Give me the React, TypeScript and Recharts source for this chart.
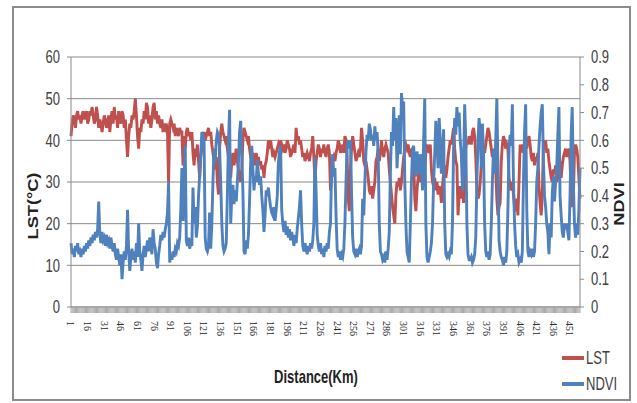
import { LineChart, Line, XAxis, YAxis, CartesianGrid, Label } from 'recharts';

// LST (°C) along the transect, one value per km
const lst = [
  41, 44, 46, 45, 43, 46, 47, 45, 46, 44, 46, 47, 45, 46, 47, 44, 45, 47, 46, 48,
  46, 44, 45, 48, 46, 43, 45, 44, 42, 44, 46, 45, 43, 44, 46, 42, 45, 47, 44, 48,
  45, 46, 43, 47, 45, 44, 47, 46, 43, 45, 40, 36, 41, 44, 43, 46, 45, 47, 50, 46,
  41, 38, 43, 42, 45, 44, 47, 45, 49, 48, 44, 46, 43, 45, 48, 49, 45, 47, 44, 46,
  44, 43, 45, 42, 44, 43, 44, 42, 30, 44, 45, 44, 43, 44, 41, 43, 42, 41, 43, 42,
  42, 34, 41, 38, 42, 43, 41, 42, 40, 42, 37, 34, 38, 36, 39, 35, 31, 36, 38, 41,
  42, 40, 41, 42, 43, 41, 42, 39, 37, 35, 33, 36, 30, 27, 38, 42, 44, 42, 41, 40,
  41, 38, 36, 33, 31, 35, 37, 34, 36, 38, 35, 33, 31, 30, 33, 40, 43, 42, 41, 40,
  41, 38, 36, 35, 37, 36, 34, 37, 35, 36, 34, 35, 33, 34, 31, 34, 35, 37, 40, 39,
  40, 38, 36, 37, 36, 37, 38, 39, 38, 40, 39, 38, 39, 37, 38, 40, 39, 38, 36, 37,
  38, 39, 37, 43, 40, 41, 39, 40, 38, 36, 37, 35, 36, 37, 36, 35, 37, 38, 41, 36,
  30, 35, 37, 39, 38, 36, 38, 37, 39, 37, 36, 38, 39, 37, 28, 31, 35, 36, 35, 37,
  38, 40, 39, 37, 38, 39, 37, 41, 40, 36, 26, 23, 33, 38, 41, 39, 37, 35, 36, 37,
  36, 38, 43, 40, 35, 34, 35, 33, 31, 28, 27, 29, 26, 28, 30, 35, 36, 38, 35, 37,
  40, 37, 36, 38, 39, 38, 37, 33, 30, 27, 24, 22, 20, 27, 30, 29, 31, 28, 30, 33,
  36, 38, 39, 38, 39, 37, 36, 38, 37, 35, 26, 23, 28, 31, 33, 30, 32, 34, 31, 33,
  37, 39, 38, 37, 39, 33, 30, 29, 31, 28, 30, 27, 29, 28, 25, 29, 32, 34, 31, 33,
  36, 38, 40, 39, 41, 43, 38, 35, 34, 22, 27, 29, 26, 28, 25, 30, 38, 40, 39, 41,
  40, 39, 42, 43, 41, 36, 28, 26, 27, 30, 34, 36, 38, 37, 39, 41, 43, 42, 40, 38,
  36, 37, 35, 33, 26, 22, 24, 25, 35, 39, 41, 40, 38, 39, 38, 31, 29, 28, 30, 27,
  24, 23, 26, 22, 30, 39, 38, 39, 37, 38, 39, 38, 40, 41, 39, 36, 35, 37, 34, 36,
  35, 37, 29, 25, 22, 27, 39, 38, 40, 37, 38, 35, 33, 31, 30, 33, 32, 34, 30, 31,
  33, 35, 31, 34, 36, 37, 38, 36, 37, 38, 35, 27, 24, 26, 37, 39, 38, 36, 31, 26,
];

// NDVI along the same transect
const ndvi = [
  0.23, 0.19, 0.21, 0.18, 0.22, 0.2, 0.23, 0.19, 0.2, 0.18, 0.21, 0.19, 0.22, 0.2, 0.23, 0.21, 0.24, 0.22, 0.25, 0.23,
  0.26, 0.24, 0.27, 0.25, 0.28, 0.38, 0.26, 0.23, 0.27, 0.24, 0.25, 0.22, 0.26, 0.23, 0.24, 0.21, 0.25, 0.22, 0.2, 0.23,
  0.19, 0.17, 0.21, 0.18, 0.15, 0.19, 0.1, 0.16, 0.2, 0.17, 0.22, 0.35, 0.2, 0.13, 0.18, 0.21, 0.17, 0.2, 0.16, 0.23,
  0.18, 0.3, 0.2, 0.17, 0.13, 0.19, 0.22, 0.18, 0.21, 0.24, 0.2, 0.25, 0.22, 0.19, 0.28, 0.23, 0.21, 0.16, 0.14, 0.19,
  0.22, 0.26, 0.24, 0.27, 0.25, 0.28, 0.3, 0.34, 0.45, 0.16, 0.19, 0.17, 0.2, 0.18, 0.21, 0.2, 0.23, 0.22, 0.25, 0.35,
  0.5, 0.31, 0.48, 0.58, 0.24, 0.22, 0.25, 0.21, 0.23, 0.22, 0.43, 0.3, 0.36, 0.25, 0.29, 0.4, 0.47, 0.55, 0.63, 0.62,
  0.6, 0.25, 0.21, 0.2, 0.22, 0.34, 0.21, 0.3, 0.45, 0.57, 0.52, 0.6, 0.63, 0.62, 0.57, 0.45, 0.3, 0.22, 0.2, 0.21,
  0.23, 0.4, 0.6, 0.71, 0.3, 0.4, 0.44, 0.37, 0.42, 0.38, 0.45, 0.52, 0.63, 0.67, 0.55, 0.42, 0.2, 0.19, 0.24, 0.21,
  0.26, 0.38, 0.52, 0.58, 0.5, 0.42, 0.47, 0.45, 0.53, 0.48, 0.44, 0.47, 0.4, 0.35, 0.27, 0.33, 0.42, 0.4, 0.43, 0.39,
  0.36, 0.34, 0.33, 0.36, 0.31, 0.35, 0.4, 0.52, 0.56, 0.58, 0.35, 0.3, 0.27, 0.31, 0.26, 0.29, 0.25, 0.28, 0.24, 0.27,
  0.25, 0.22, 0.26, 0.23, 0.28, 0.32, 0.36, 0.42, 0.3, 0.22, 0.2, 0.23, 0.21, 0.19, 0.22, 0.2, 0.23, 0.21, 0.24, 0.3,
  0.54, 0.42, 0.26, 0.22, 0.2, 0.23, 0.19, 0.21, 0.18, 0.22, 0.2, 0.23, 0.21, 0.27, 0.3, 0.5, 0.55, 0.47, 0.5, 0.33,
  0.21, 0.18, 0.2, 0.17, 0.19, 0.18, 0.21, 0.3, 0.45, 0.58, 0.6, 0.57, 0.6, 0.41, 0.25, 0.2, 0.19, 0.21, 0.18, 0.2,
  0.21, 0.19, 0.22, 0.39, 0.33, 0.45, 0.56, 0.62, 0.6, 0.66, 0.64, 0.6, 0.62, 0.58, 0.65, 0.6, 0.63, 0.55, 0.3, 0.2,
  0.19, 0.17, 0.18, 0.16, 0.2, 0.17, 0.21, 0.27, 0.48, 0.63, 0.58, 0.72, 0.6, 0.68, 0.5, 0.6, 0.69, 0.55, 0.77, 0.72,
  0.74, 0.45, 0.3, 0.2, 0.18, 0.16, 0.3, 0.45, 0.57, 0.58, 0.5, 0.47, 0.56, 0.52, 0.48, 0.55, 0.5, 0.42, 0.6, 0.75,
  0.3, 0.18, 0.16, 0.18, 0.2, 0.23, 0.3, 0.45, 0.55, 0.67, 0.6, 0.5, 0.68, 0.6, 0.48, 0.55, 0.64, 0.3, 0.19, 0.18,
  0.19, 0.18, 0.2, 0.19, 0.3, 0.57, 0.68, 0.62, 0.72, 0.65, 0.7, 0.6, 0.55, 0.42, 0.5, 0.73, 0.6, 0.3, 0.19, 0.17,
  0.17, 0.18, 0.16, 0.17, 0.19, 0.25, 0.45, 0.6, 0.68, 0.62, 0.5, 0.66, 0.55, 0.3, 0.2, 0.18, 0.2, 0.17, 0.19, 0.3,
  0.45, 0.57, 0.48, 0.6, 0.75, 0.5, 0.24, 0.2, 0.18, 0.17, 0.15, 0.18, 0.16, 0.2, 0.35, 0.57, 0.62, 0.58, 0.73, 0.45,
  0.3, 0.22, 0.18, 0.19, 0.16, 0.17, 0.16, 0.2, 0.45, 0.63, 0.73, 0.35, 0.2, 0.18, 0.2, 0.19, 0.21, 0.18, 0.2, 0.3,
  0.45, 0.5, 0.58, 0.65, 0.7, 0.73, 0.53, 0.4, 0.36, 0.3, 0.27, 0.19, 0.3, 0.25, 0.41, 0.47, 0.38, 0.45, 0.5, 0.62,
  0.72, 0.4, 0.33, 0.27, 0.25, 0.3, 0.28, 0.3, 0.27, 0.24, 0.4, 0.62, 0.72, 0.45, 0.3, 0.25, 0.3, 0.26, 0.35, 0.5,
];

// distance labels (km), one per sample
const distance = lst.map((_, i) => i + 1);

const xTickLabels = [
  1, 16, 31, 46, 61, 76, 91, 106, 121, 136, 151, 166, 181, 196, 211, 226,
  241, 256, 271, 286, 301, 316, 331, 346, 361, 376, 391, 406, 421, 436, 451,
];
const lstTicks = [0, 10, 20, 30, 40, 50, 60];
const ndviTicks = [0, 0.1, 0.2, 0.3, 0.4, 0.5, 0.6, 0.7, 0.8, 0.9];

const data = distance.map((d, i) => ({ d, lst: lst[i], ndvi: ndvi[i] }));

const RED = '#C0504D';
const BLUE = '#4F81BD';
const AXIS = '#8a8a8a';
const TXT = '#404040';
const SANS = "'Liberation Sans', Arial, sans-serif";

// the source image is stretched vertically, so the y tick text is stretched too
const LeftTick = (props: any) => (
  <g transform={`translate(60,${props.y})`}>
    <g transform="scale(1,1.35)">
      <text x={0} y={0} textAnchor="end" dominantBaseline="central" fontSize={13} fontFamily={SANS} fill={TXT}>
        {props.payload.value}
      </text>
    </g>
  </g>
);

const RightTick = (props: any) => (
  <g transform={`translate(591,${props.y})`}>
    <g transform="scale(1,1.35)">
      <text x={0} y={0} textAnchor="start" dominantBaseline="central" fontSize={13} fontFamily={SANS} fill={TXT}>
        {props.payload.value}
      </text>
    </g>
  </g>
);

export default function App() {
  return (
    <div style={{ position: 'absolute', left: 0, top: 0, width: 637, height: 403, background: '#fff' }}>
      <div style={{ position: 'absolute', left: 0, top: 0 }}>
        <LineChart width={637} height={403} data={data} margin={{ top: 57, right: 17, left: 41, bottom: 56 }}>
          <CartesianGrid yAxisId="left" vertical={false} stroke={AXIS} strokeWidth={1} />
          <XAxis
            dataKey="d"
            interval={0}
            height={40}
            angle={90}
            textAnchor="start"
            tickFormatter={(v) => (xTickLabels.includes(Number(v)) ? String(v) : '')}
            tick={{ fontSize: 10, fill: '#2a2a2a', fontFamily: "'Liberation Serif', serif", dx: 3.5 }}
            tickSize={6}
            tickMargin={8}
            tickLine={{ stroke: '#a8a8a8' }}
            axisLine={{ stroke: AXIS }}
          >
            <Label
              content={() => (
                <text transform="translate(316 377) scale(1 1.35)" textAnchor="middle" dominantBaseline="central"
                  fontSize={13} fontWeight="bold" fontFamily={SANS} fill="#222">
                  Distance(Km)
                </text>
              )}
            />
          </XAxis>
          <YAxis
            yAxisId="left"
            width={30}
            domain={[0, 60]}
            ticks={lstTicks}
            tick={LeftTick}
            tickSize={4}
            tickLine={{ stroke: AXIS }}
            axisLine={{ stroke: AXIS }}
          >
            <Label
              content={() => (
                <text transform="translate(33 206) rotate(-90) scale(1.3 1)" textAnchor="middle" dominantBaseline="central"
                  fontSize={14} fontWeight="bold" fontFamily={SANS} fill="#222">
                  LST(°C)
                </text>
              )}
            />
          </YAxis>
          <YAxis
            yAxisId="right"
            orientation="right"
            width={40}
            domain={[0, 0.9]}
            ticks={ndviTicks}
            tick={RightTick}
            tickSize={4}
            tickLine={{ stroke: AXIS }}
            axisLine={{ stroke: AXIS }}
          >
            <Label
              content={() => (
                <text transform="translate(619 204) rotate(-90) scale(1.3 1)" textAnchor="middle" dominantBaseline="central"
                  fontSize={14} fontWeight="bold" fontFamily={SANS} fill="#222">
                  NDVI
                </text>
              )}
            />
          </YAxis>
          <Line yAxisId="left" type="linear" dataKey="lst" name="LST" stroke={RED} strokeWidth={2.9} dot={false} isAnimationActive={false} />
          <Line yAxisId="right" type="linear" dataKey="ndvi" name="NDVI" stroke={BLUE} strokeWidth={2.9} dot={false} isAnimationActive={false} />
        </LineChart>
      </div>
      <svg width={637} height={403} style={{ position: 'absolute', left: 0, top: 0, pointerEvents: 'none' }}>
        <line x1={562} x2={584} y1={358} y2={358} stroke={RED} strokeWidth={4} />
        <text transform="translate(586 358) scale(1 1.35)" dominantBaseline="central" fontSize={13} fontFamily={SANS} fill={TXT}>LST</text>
        <line x1={562} x2={584} y1={384} y2={384} stroke={BLUE} strokeWidth={4} />
        <text transform="translate(586 384) scale(1 1.35)" dominantBaseline="central" fontSize={13} fontFamily={SANS} fill={TXT}>NDVI</text>
      </svg>
      <div style={{ position: 'absolute', left: 12, top: 6, width: 619, height: 395, border: '2px solid #8c8c8c', boxSizing: 'border-box' }} />
    </div>
  );
}
